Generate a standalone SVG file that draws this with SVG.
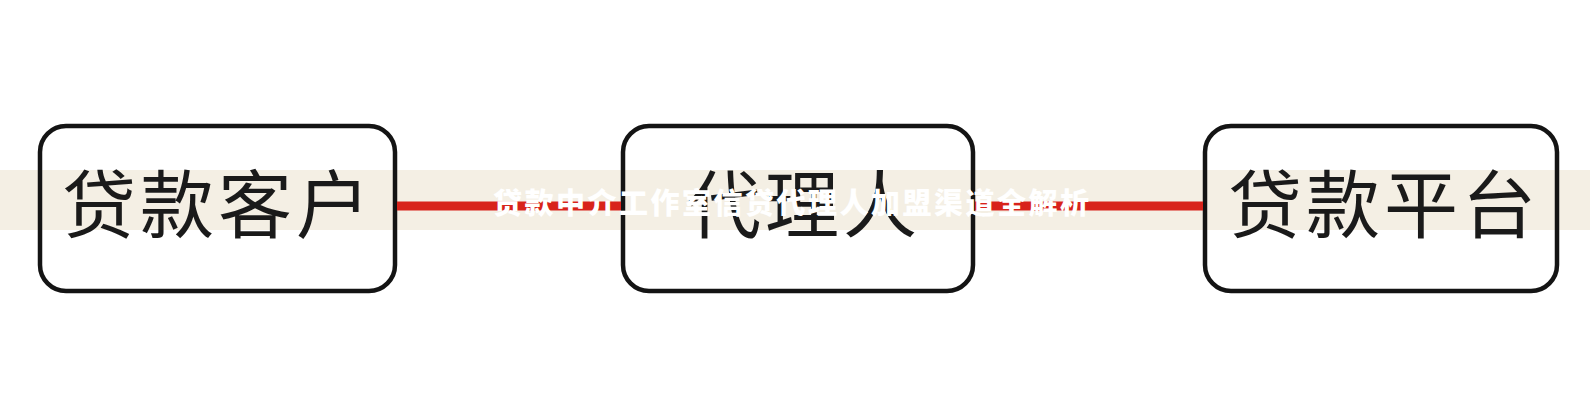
<svg xmlns="http://www.w3.org/2000/svg" width="1590" height="400" viewBox="0 0 1590 400">
  <style>
    .node rect { fill: none; stroke: #141414; stroke-width: 4.5; }
    .node text { font-family: "Noto Sans CJK SC", "Noto Sans", sans-serif; font-size: 74px; font-weight: 400; fill: #1a1a1a; text-anchor: middle; letter-spacing: 4px; }
    .edge { stroke: #d8231b; stroke-width: 9; fill: none; }
    .title { font-family: "Noto Sans CJK SC", "Noto Sans", sans-serif; font-size: 29px; font-weight: 900; fill: #ffffff; letter-spacing: 2.5px; }
  </style>
  <rect width="1590" height="400" fill="#ffffff"/>
  <rect id="band" x="0" y="170" width="1590" height="60" fill="#f4efe4"/>
  <g id="node-customer" class="node">
    <rect x="40" y="126" width="355" height="165" rx="26"/>
    <text x="218" y="232">贷款客户</text>
  </g>
  <g id="node-agent" class="node">
    <rect x="623" y="126" width="350" height="165" rx="26"/>
    <text x="804" y="232">代理人</text>
  </g>
  <g id="node-platform" class="node">
    <rect x="1205" y="126" width="352" height="165" rx="26"/>
    <text x="1384" y="232">贷款平台</text>
  </g>
  <g id="connectors">
    <line class="edge" x1="397" y1="206" x2="621" y2="206"/>
    <line class="edge" x1="975" y1="206" x2="1203" y2="206"/>
  </g>
  <text class="title" x="493" y="214">贷款中介工作室信贷代理人加盟渠道全解析</text>
</svg>
